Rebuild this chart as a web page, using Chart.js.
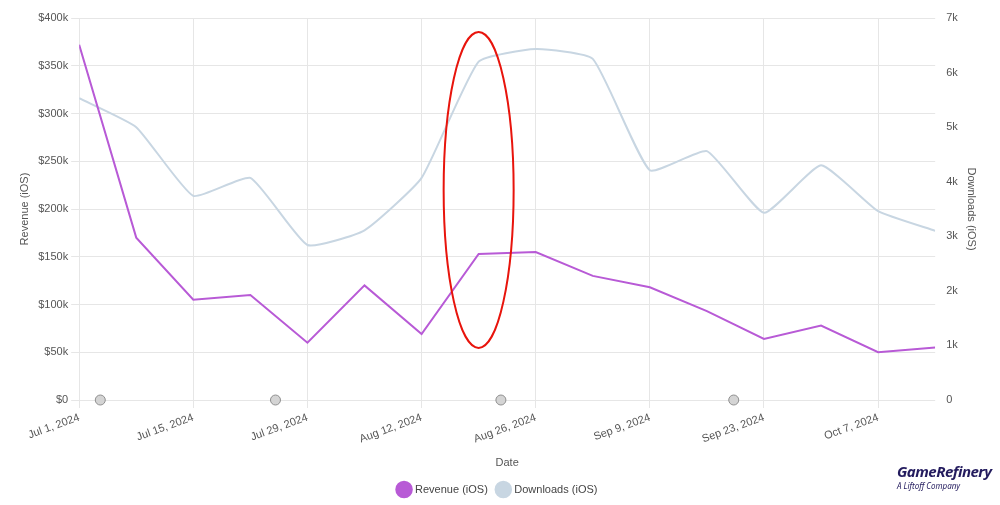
<!DOCTYPE html>
<html><head><meta charset="utf-8">
<script src="https://cdn.jsdelivr.net/npm/chart.js@4"></script>
<style>body{margin:0;background:#fff;font-family:"Noto Sans",sans-serif}#wrap{position:relative;width:1000px;height:505px}
#logo{position:absolute;left:897px;top:460px;color:#231b5e}
#logo b{font-style:italic;font-size:15px;letter-spacing:-0.5px}#logo div{font-size:8px;font-style:italic;margin-top:-2px}</style>
</head><body><div id="wrap"><canvas id="c" width="1000" height="505"></canvas>
<div id="logo"><b>GameRefinery</b><div>A Liftoff Company</div></div></div>
<script>
const dates = ["Jul 1, 2024","Jul 8, 2024","Jul 15, 2024","Jul 22, 2024","Jul 29, 2024","Aug 5, 2024","Aug 12, 2024","Aug 19, 2024","Aug 26, 2024","Sep 2, 2024","Sep 9, 2024","Sep 16, 2024","Sep 23, 2024","Sep 30, 2024","Oct 7, 2024","Oct 14, 2024"];
const revenue = [372,170,105,110,60,120,69,153,155,130,118,93,64,78,50,55];
const downloads = [5.53,5.0,3.74,4.07,2.84,3.11,4.07,6.2,6.43,6.25,4.21,4.56,3.43,4.3,3.46,3.1];
const eventMarks = [0.37,3.44,7.39,11.47];

// red ellipse highlight
const ellipse = {
  id: "ellipse",
  afterDatasetsDraw(chart) {
    const {ctx, scales: {x, y}} = chart;
    const cx = x.getPixelForValue(7), cy = y.getPixelForValue(220);
    ctx.save();
    ctx.strokeStyle = "#e8140c"; ctx.lineWidth = 2;
    ctx.beginPath(); ctx.ellipse(cx, cy, 35, 158, 0, 0, Math.PI * 2); ctx.stroke();
    ctx.restore();
  }
};

new Chart(document.getElementById("c"), {
  type: "line",
  data: {
    datasets: [
      { label: "Revenue (iOS)", data: revenue.map((v, i) => ({x: i, y: v})), yAxisID: "y",
        borderColor: "#b85ad6", backgroundColor: "#b85ad6", borderWidth: 2, pointRadius: 0, tension: 0 },
      { label: "Downloads (iOS)", data: downloads.map((v, i) => ({x: i, y: v})), yAxisID: "y1",
        borderColor: "#c8d6e2", backgroundColor: "#c8d6e2", borderWidth: 2, pointRadius: 0, tension: 0.15 },
      { label: "events", data: eventMarks.map(v => ({x: v, y: 0})), yAxisID: "y", showLine: false,
        pointRadius: 5, pointBackgroundColor: "#d4d4d4", pointBorderColor: "#8f8f8f", pointBorderWidth: 1, clip: false }
    ]
  },
  options: {
    responsive: false, animation: false,
    layout: { padding: { top: 18, right: 18, left: 14, bottom: 0 } },
    scales: {
      x: { type: "linear", min: 0, max: 15,
        afterBuildTicks: a => { a.ticks = dates.map((d, i) => ({value: i})).filter(t => t.value % 2 === 0); },
        ticks: { callback: v => dates[v], maxRotation: 20, minRotation: 20, color: "#555", font: { size: 11 } },
        grid: { color: "#e6e6e6" }, border: { display: false },
        title: { display: true, text: "Date", color: "#555", font: { size: 11 }, padding: { top: 8, bottom: 4 } } },
      y: { position: "left", min: 0, max: 400, ticks: { stepSize: 50, callback: v => "$" + v + (v ? "k" : ""), color: "#555", font: { size: 11 } },
        grid: { color: "#e6e6e6" }, border: { display: false },
        title: { display: true, text: "Revenue (iOS)", color: "#555", font: { size: 11 } } },
      y1: { position: "right", min: 0, max: 7, ticks: { stepSize: 1, callback: v => v ? v + "k" : "0", color: "#555", font: { size: 11 } },
        grid: { display: false }, border: { display: false },
        title: { display: true, text: "Downloads (iOS)", color: "#555", font: { size: 11 } } }
    },
    plugins: {
      legend: { position: "bottom", labels: { usePointStyle: true, pointStyle: "circle", boxWidth: 16, boxHeight: 16, color: "#444", font: { size: 11 },
        filter: i => i.text !== "events" } },
      tooltip: { enabled: false }
    }
  },
  plugins: [ellipse]
});
</script></body></html>
